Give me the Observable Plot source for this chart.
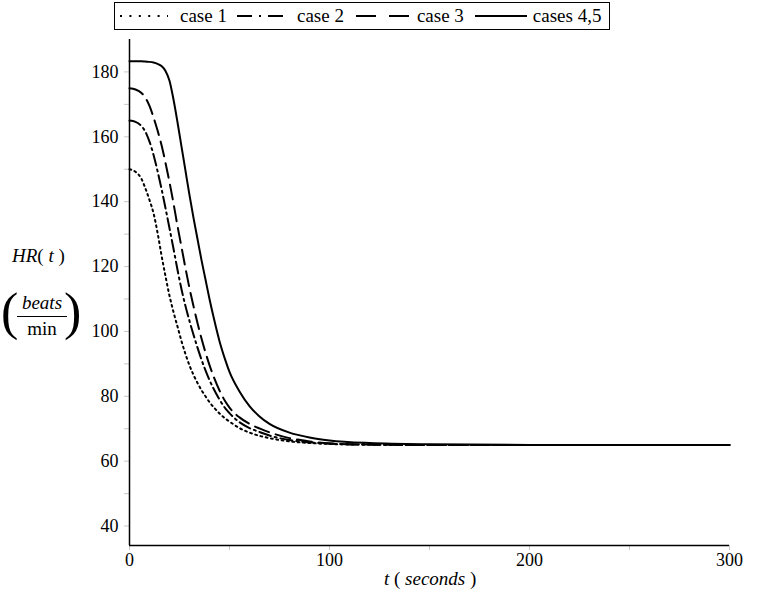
<!DOCTYPE html>
<html>
<head>
<meta charset="utf-8">
<script src="https://cdn.jsdelivr.net/npm/d3@7"></script>
<script src="https://cdn.jsdelivr.net/npm/@observablehq/plot@0.6"></script>
<style>
  body { margin: 0; background: #fff; font-family: "Liberation Serif", "Times New Roman", Times, serif; }
  #wrap { position: relative; width: 759px; height: 599px; overflow: hidden; font-family: "Liberation Serif", "Times New Roman", Times, serif; }
  #chart svg, #chart svg text { font-family: "Liberation Serif", "Times New Roman", Times, serif !important; }
  #legend { position: absolute; left: 114px; top: 2px; width: 494px; height: 26px; border: 1.5px solid #000;
            display: flex; align-items: center; font-size: 19px; color: #000; background: #fff; box-sizing: content-box; }
  #legend svg { display: block; }
  .lab { position: absolute; color: #000; white-space: nowrap; }
  .it { font-style: italic; }
</style>
</head>
<body>
<div id="wrap">
  <div id="chart"></div>
  <div id="legend"></div>
  <div class="lab" style="left:12px; top:245px; font-size:19px;"><span class="it">HR</span>( <span class="it">t</span> )</div>
  <div class="lab" style="left:1px; top:282px; font-size:52px; line-height:60px; font-weight:300;">(</div>
  <div class="lab" style="left:64px; top:282px; font-size:52px; line-height:60px; font-weight:300;">)</div>
  <div class="lab" style="left:17px; top:292px; width:50px; text-align:center; font-size:19px; line-height:22px;">
    <div class="it" style="border-bottom:1.5px solid #000; padding-bottom:2px;">beats</div>
    <div style="padding-top:1px;">min</div>
  </div>
  <div class="lab" style="left:384px; top:568px; font-size:19px;"><span class="it">t</span> ( <span class="it">seconds</span> )</div>
</div>
<script>
// time points (seconds)
const t = [0, 3, 6, 8, 10, 12, 14, 16, 18, 20, 22, 24, 26, 28, 30, 32, 34, 36, 38, 40, 42, 45, 48, 50, 55, 60, 65, 70, 80, 90, 100, 120, 150, 200, 250, 300];
// heart rate (beats/min) per case
const case1  = [150, 149.2, 147, 144, 140.5, 136.5, 130.5, 123.5, 117, 111, 106, 101.5, 97, 93, 89.5, 86.6, 84.1, 81.9, 80, 78.2, 76.7, 74.7, 73.1, 72.2, 70.2, 68.8, 67.8, 67.1, 66.1, 65.6, 65.3, 65.1, 65, 65, 65, 65];
const case2  = [165, 164.6, 163.3, 161.5, 158.5, 154.5, 149.5, 144, 138, 131.8, 125.5, 119, 113, 107.8, 103.2, 99, 95, 91.3, 88, 85, 82.4, 79, 76.2, 74.8, 72, 70.2, 69, 67.9, 66.5, 65.8, 65.4, 65.1, 65, 65, 65, 65];
const case3  = [175, 174.6, 173.5, 172, 169.5, 166, 162, 157.5, 152, 146, 139.5, 132.5, 126, 119.5, 113.3, 107.8, 102.6, 97.8, 93.5, 89.6, 86.2, 81.8, 78.3, 76.5, 73.5, 71.5, 70.1, 68.9, 67.1, 66.1, 65.5, 65.1, 65, 65, 65, 65];
const case45 = [183.3, 183.3, 183.3, 183.2, 183.1, 182.9, 182.5, 181.8, 180.3, 177.3, 171.5, 164.5, 157, 149.5, 142, 135, 128.5, 122, 116, 110, 104.5, 97, 91, 87.5, 81.5, 77, 73.8, 71.5, 68.8, 67.3, 66.4, 65.6, 65.2, 65, 65, 65];

const seriesNames = ["case 1", "case 2", "case 3", "cases 4,5"];
const seriesValues = [case1, case2, case3, case45];
const dashes = ["1.8,3.6", "12,4,2,4", "15,7", null];
const legendDashes = ["2,7.4", "15,7,2,7", "20,13", null];

const yMajor = [40, 60, 80, 100, 120, 140, 160, 180];
const yMinor = d3.range(40, 190, 10);
const xMajor = [0, 100, 200, 300];
const xMinor = [0, 50, 100, 150, 200, 250, 300];

const lineMarks = seriesValues.map((vals, i) =>
  Plot.line(t.map((tt, j) => ({t: tt, v: vals[j]})), {
    x: "t", y: "v", curve: "monotone-x", stroke: "#000", strokeWidth: 2,
    strokeDasharray: dashes[i] || undefined
  })
);

const chart = Plot.plot({
  width: 759,
  height: 599,
  marginLeft: 129,
  marginRight: 30,
  marginTop: 39,
  marginBottom: 54,
  style: {fontFamily: "'Liberation Serif', 'Times New Roman', serif", fontSize: "18px", background: "white", color: "black"},
  x: {domain: [0, 300]},
  y: {domain: [34, 190]},
  marks: [
    Plot.axisY({ticks: yMinor, tickSize: 5, stroke: "#c8c8c8", tickFormat: () => "", label: null}),
    Plot.axisY({ticks: yMajor, tickSize: 0, tickPadding: 11, fill: "black", label: null, fontSize: 18}),
    Plot.axisX({ticks: xMinor, tickSize: 5, stroke: "#c8c8c8", tickFormat: () => "", label: null}),
    Plot.axisX({ticks: xMajor, tickSize: 0, tickPadding: 8, fill: "black", label: null, fontSize: 18}),
    ...lineMarks,
    Plot.ruleX([0], {stroke: "#000", strokeWidth: 1.5}),
    Plot.ruleY([34], {stroke: "#000", strokeWidth: 1.5})
  ]
});
document.getElementById("chart").appendChild(chart);

// legend
const legend = document.getElementById("legend");
const layout = [
  {pad: 5, w: 48, gap: 12},
  {pad: 10, w: 50, gap: 10},
  {pad: 12, w: 54, gap: 7},
  {pad: 11, w: 52, gap: 6}
];
seriesNames.forEach((name, i) => {
  const L = layout[i];
  const ns = "http://www.w3.org/2000/svg";
  const s = document.createElementNS(ns, "svg");
  s.setAttribute("width", L.w);
  s.setAttribute("height", 10);
  s.style.marginLeft = L.pad + "px";
  s.style.marginRight = L.gap + "px";
  const ln = document.createElementNS(ns, "line");
  ln.setAttribute("x1", 0); ln.setAttribute("x2", L.w);
  ln.setAttribute("y1", 5); ln.setAttribute("y2", 5);
  ln.setAttribute("stroke", "#000");
  ln.setAttribute("stroke-width", 2);
  if (legendDashes[i]) ln.setAttribute("stroke-dasharray", legendDashes[i]);
  s.appendChild(ln);
  legend.appendChild(s);
  const sp = document.createElement("span");
  sp.textContent = name;
  legend.appendChild(sp);
});
</script>
</body>
</html>
